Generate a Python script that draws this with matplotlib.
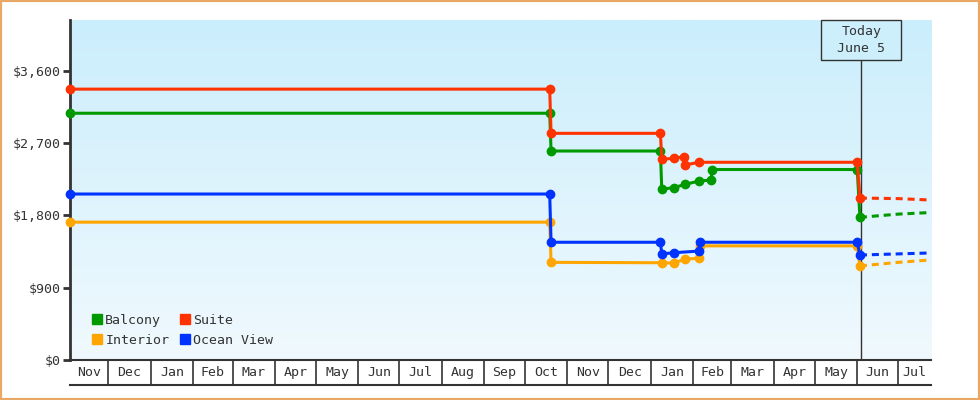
import matplotlib
matplotlib.use("Agg")
import matplotlib.pyplot as plt
import matplotlib.dates as mdates
from matplotlib.patches import Rectangle
from matplotlib.lines import Line2D
from matplotlib.colors import LinearSegmentedColormap
import numpy as np
import pandas as pd

# price history (dates + prices per cabin type)
balcony_dates = ["2023-11-03", "2024-10-19", "2024-10-20", "2025-01-08", "2025-01-09",
                 "2025-01-18", "2025-01-26", "2025-02-05", "2025-02-14", "2025-02-15",
                 "2025-06-01", "2025-06-03"]
balcony_prices = [3070, 3070, 2600, 2600, 2125, 2145, 2185, 2225, 2240, 2370, 2370, 1775]

suite_dates = ["2023-11-03", "2024-10-19", "2024-10-20", "2025-01-08", "2025-01-09",
               "2025-01-18", "2025-01-25", "2025-01-26", "2025-02-05", "2025-06-01",
               "2025-06-03"]
suite_prices = [3370, 3370, 2820, 2820, 2497, 2510, 2530, 2425, 2460, 2460, 2020]

interior_dates = ["2023-11-03", "2024-10-19", "2024-10-20", "2025-01-09", "2025-01-18",
                  "2025-01-26", "2025-02-05", "2025-02-06", "2025-06-01", "2025-06-03"]
interior_prices = [1715, 1715, 1215, 1210, 1205, 1255, 1265, 1420, 1420, 1170]

ocean_dates = ["2023-11-03", "2024-10-19", "2024-10-20", "2025-01-08", "2025-01-09",
               "2025-01-18", "2025-02-05", "2025-02-06", "2025-06-01", "2025-06-03"]
ocean_prices = [2065, 2065, 1465, 1465, 1320, 1335, 1355, 1465, 1465, 1306]

# forecast after today (dashed)
forecast_dates = ["2025-06-03", "2025-07-01", "2025-07-25"]
balcony_forecast = [1775, 1815, 1835]
suite_forecast = [2015, 2008, 1990]
interior_forecast = [1170, 1215, 1245]
ocean_forecast = [1306, 1320, 1332]

today = "2025-06-04"
today_label = "Today\nJune 5"
x_start, x_end = "2023-11-03", "2025-07-25"
y_ticks = [0, 900, 1800, 2700, 3600]

colors = {"Balcony": "#009a00", "Suite": "#ff3300",
          "Interior": "#ffa500", "Ocean View": "#0033ff"}
ink = "#333333"
font = dict(family="DejaVu Sans Mono", size=9.5, color=ink)

fig = plt.figure(figsize=(9.8, 4), dpi=100)
L, R = 70 / 980, 931 / 980
ax = fig.add_axes([L, 40 / 400, R - L, 340 / 400])

# background gradient
cmap = LinearSegmentedColormap.from_list("bg", ["#cbeefc", "#f0f9fe"])
ax.imshow(np.linspace(0, 1, 256).reshape(-1, 1), extent=(0, 1, 0, 1), transform=ax.transAxes,
          aspect="auto", cmap=cmap, zorder=0)

x0 = pd.Timestamp(x_start)
x1 = pd.Timestamp(x_end)
td = pd.Timestamp(today)

# today marker
box_top = 1.0
box_bot = (360 - 60) / 340
ax.axvline(td, ymin=0, ymax=box_bot, color=ink, lw=1, zorder=2)
half = pd.Timedelta(days=29.3)
trans = ax.get_xaxis_transform()
ax.add_patch(Rectangle((mdates.date2num(td - half), box_bot), mdates.date2num(td + half) - mdates.date2num(td - half),
                       box_top - box_bot, transform=trans, facecolor="#cdeffc", edgecolor=ink, lw=1, zorder=2,
                       clip_on=False))
ax.text(td, (box_top + box_bot) / 2, today_label, transform=trans, ha="center", va="center",
        linespacing=1.3, **font)

series = [("Interior", interior_dates, interior_prices, interior_forecast),
          ("Ocean View", ocean_dates, ocean_prices, ocean_forecast),
          ("Balcony", balcony_dates, balcony_prices, balcony_forecast),
          ("Suite", suite_dates, suite_prices, suite_forecast)]
for name, d, p, f in series:
    c = colors[name]
    ax.plot(pd.to_datetime(forecast_dates), f, color=c, lw=2.2, ls=(0, (2.3, 1.6)), zorder=3)
    ax.plot(pd.to_datetime(d), p, color=c, lw=2.2, marker="o", ms=6, zorder=4, clip_on=False)

ax.set_xlim(x0, x1)
ax.set_ylim(0, 4230)
ax.set_yticks(y_ticks)
ax.set_yticklabels(["$" + format(v, ",") for v in y_ticks], fontdict=font)
ax.tick_params(axis="y", length=5, width=2, color=ink, pad=2)
ax.tick_params(axis="x", bottom=False, labelbottom=False)
for s in ["top", "right"]:
    ax.spines[s].set_visible(False)
ax.spines["left"].set_color(ink)
ax.spines["left"].set_linewidth(2)
ax.spines["bottom"].set_color(ink)
ax.spines["bottom"].set_linewidth(1.5)

# legend
handles = [Line2D([], [], ls="", marker="s", ms=7.5, color=colors[n]) for n in
           ["Balcony", "Interior", "Suite", "Ocean View"]]
leg = ax.legend(handles, ["Balcony", "Interior", "Suite", "Ocean View"], loc="lower left",
                bbox_to_anchor=(0.018, 0.02), ncol=2, frameon=False, handlelength=0.8,
                handletextpad=0.2, columnspacing=0.8, labelspacing=0.5, borderpad=0,
                prop=dict(family="DejaVu Sans Mono", size=9.5))
for t in leg.get_texts():
    t.set_color(ink)

# month strip under the axis
ax2 = fig.add_axes([L, 15 / 400, R - L, 25 / 400], sharex=ax)
ax2.set_ylim(0, 1)
ax2.patch.set_visible(False)
for s in ["top", "left", "right"]:
    ax2.spines[s].set_visible(False)
ax2.spines["bottom"].set_color(ink)
ax2.spines["bottom"].set_linewidth(1.5)
ax2.tick_params(bottom=False, labelbottom=False, left=False, labelleft=False)
months = pd.date_range(x0.replace(day=1), x1 + pd.offsets.MonthBegin(1), freq="MS")
for a, b in zip(months[:-1], months[1:]):
    lo, hi = max(a, x0), min(b, x1)
    if a > x0:
        ax2.axvline(a, color=ink, lw=1.2)
    ax2.text(lo + (hi - lo) / 2, 0.5, a.strftime("%b"), ha="center", va="center", **font)
ax2.set_xlim(x0, x1)

fig.patches.append(Rectangle((0, 0), 1, 1, transform=fig.transFigure, fill=False,
                             edgecolor="#e9a866", lw=3))
fig.savefig("out.png", dpi=100)
